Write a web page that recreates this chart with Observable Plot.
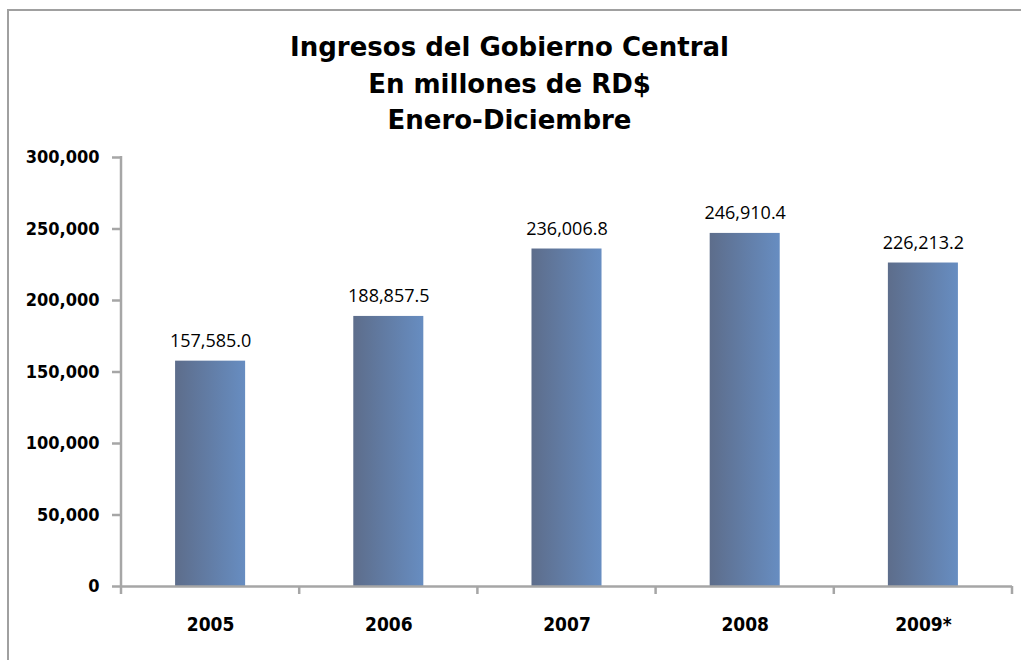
<!DOCTYPE html>
<html><head><meta charset="utf-8">
<script src="https://cdn.jsdelivr.net/npm/d3@7"></script>
<script src="https://cdn.jsdelivr.net/npm/@observablehq/plot@0.6"></script>
<style>
html,body{margin:0;padding:0;background:#fff;}
#wrap{position:relative;width:1021px;height:660px;overflow:hidden;}
#frame{position:absolute;left:7px;top:9px;width:1100px;height:800px;border-left:2px solid #a0a0a0;border-top:2px solid #a0a0a0;}
#title{position:relative;height:140px;box-sizing:border-box;padding-top:29px;padding-right:2px;text-align:center;font-family:"DejaVu Sans",sans-serif;font-weight:bold;font-size:26px;line-height:36.5px;color:#000;}
#chart{position:relative;}
</style></head>
<body>
<div id="wrap">
<div id="frame"></div>
<div id="title">Ingresos del Gobierno Central<br>En millones de RD$<br>Enero-Diciembre</div>
<div id="chart"></div>
</div>
<script>
const years = ["2005", "2006", "2007", "2008", "2009*"];
const values = [157585.0, 188857.5, 236006.8, 246910.4, 226213.2];
const yTicks = [0, 50000, 100000, 150000, 200000, 250000, 300000];

const data = years.map((y, i) => ({year: y, value: values[i]}));
const boldFont = '"DejaVu Sans Condensed","DejaVu Sans",sans-serif';
const fmtVal = d3.format(",.1f");
const axisGray = "#a6a6a6";

const plot = Plot.plot({
  width: 1021,
  height: 520,
  marginTop: 17,
  marginBottom: 74,
  marginLeft: 121,
  marginRight: 9,
  style: {background: "transparent", color: "#000"},
  x: {domain: years, paddingInner: 0.607, paddingOuter: 0.3035, round: false, label: null},
  y: {domain: [0, 300000], label: null},
  marks: [
    Plot.barY(data, {x: "year", y: "value", fill: "url(#barGrad)"}),
    Plot.ruleY([0], {stroke: axisGray, strokeWidth: 2.5}),
    Plot.axisY({ticks: yTicks, tickFormat: d3.format(","), tickSize: 9, tickPadding: 13,
      stroke: axisGray, strokeWidth: 2.5, fill: "#000", fontSize: 18, fontWeight: "bold",
      fontFamily: boldFont, label: null}),
    Plot.axisX({tickSize: 0, tickPadding: 31, fill: "#000", fontSize: 19, fontWeight: "bold",
      fontFamily: boldFont, label: null}),
    Plot.text(data, {x: "year", y: "value", text: d => fmtVal(d.value), lineAnchor: "bottom",
      dy: -14, fontSize: 18, fontFamily: '"Open Sans","Noto Sans",sans-serif', fill: "#000"})
  ]
});

document.getElementById("chart").appendChild(plot);

// gradient + axis decorations derived from the plot's own scales
const svg = d3.select(plot);
svg.selectAll('[aria-label^="y-axis"], [aria-label^="x-axis"]').style("font-stretch", "condensed");
const defs = svg.insert("defs", ":first-child");
const grad = defs.append("linearGradient").attr("id", "barGrad")
  .attr("x1", "0").attr("y1", "0").attr("x2", "1").attr("y2", "0");
grad.append("stop").attr("offset", "0%").attr("stop-color", "#5d6d8b");
grad.append("stop").attr("offset", "100%").attr("stop-color", "#678dc1");

const sx = plot.scale("x"), sy = plot.scale("y");
const y0 = sy.apply(0), yTop = sy.apply(300000);
const xLeft = sx.range[0];
const deco = svg.append("g").attr("stroke", axisGray).attr("stroke-width", 2.5);
deco.append("line").attr("x1", xLeft).attr("x2", xLeft).attr("y1", yTop - 1).attr("y2", y0 + 8);
const gap = (sx.step - sx.bandwidth) / 2;
years.forEach((yr, i) => {
  const xb = sx.apply(yr) + sx.bandwidth + gap;
  deco.append("line").attr("x1", xb).attr("x2", xb).attr("y1", y0).attr("y2", y0 + 8);
});
</script>
</body></html>
